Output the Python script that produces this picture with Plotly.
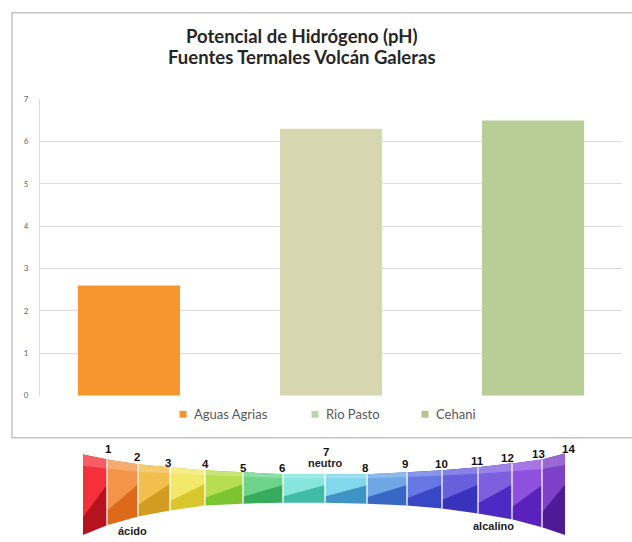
import plotly.graph_objects as go

# Chart data
fuentes = ["Aguas Agrias", "Rio Pasto", "Cehani"]
ph_valores = [2.6, 6.3, 6.5]
colores_barra = ["#F7962F", "#D6D7AE", "#B9CE96"]
colores_leyenda = ["#F7922E", "#BBD6AB", "#B6C38F"]
y_ticks = [0, 1, 2, 3, 4, 5, 6, 7]
titulo = ["Potencial de Hidrógeno (pH)", "Fuentes Termales Volcán Galeras"]

# pH scale strip
escala_ph = [str(n) for n in range(1, 15)]
etiqueta_neutro = "neutro"
etiqueta_acido = "ácido"
etiqueta_alcalino = "alcalino"

W, H = 632, 542


def fx(x):
    return x / W


def fy(y):
    return 1 - y / H


fig = go.Figure()

for i, (name, val) in enumerate(zip(fuentes, ph_valores)):
    fig.add_trace(go.Bar(
        x=[name], y=[val], width=0.505, name=name,
        marker=dict(color=colores_barra[i], line=dict(width=0)),
        showlegend=False, hoverinfo="x+y",
    ))

shapes = []
annotations = []

# outer chart frame
shapes.append(dict(type="rect", xref="paper", yref="paper",
                   x0=fx(12), x1=fx(640), y0=fy(441), y1=fy(8),
                   line=dict(color="#C4C4C4", width=1.5), fillcolor="rgba(0,0,0,0)",
                   layer="below"))

# legend row: small swatch + label for each source
leyenda_x = [183, 315, 425]
for name, col, x in zip(fuentes, colores_leyenda, leyenda_x):
    shapes.append(dict(type="rect", xref="paper", yref="paper",
                       x0=fx(x - 3.5), x1=fx(x + 3.5), y0=fy(420.5), y1=fy(413.5),
                       fillcolor=col, line=dict(width=0)))
    annotations.append(dict(text=name, xref="paper", yref="paper",
                            x=fx(x + 9), y=fy(417), xanchor="left", yanchor="middle",
                            showarrow=False,
                            font=dict(family="Lato", size=13, color="#595959")))

# pH strip geometry: block boundaries and top/bottom edges along the curve
bx = [83, 107, 138, 170, 205, 243, 283, 325, 367, 407, 442, 478, 512, 542, 565]
top = [458, 463, 468, 471, 474, 476, 478, 478, 478, 476, 474, 471, 467, 463, 457]
bot = [540, 530, 521, 515, 510, 508, 507, 507, 508, 510, 513, 518, 524, 532, 540]
claros = ["#F4303A", "#F49448", "#F2BE4C", "#F2E86A", "#B6DE50", "#6ED48C", "#86E6DE",
          "#80D8EA", "#6EA6E6", "#6676E4", "#6660DE", "#7E60DE", "#8E50DE", "#7E40C6"]
oscuros = ["#B5141E", "#DC6A1A", "#D29C20", "#D8C82E", "#7CC430", "#38AC5E", "#40BCA6",
           "#3E94C4", "#3868C4", "#3848C4", "#3832BC", "#4C2AC4", "#5A22BC", "#4E1A96"]


def ruta(pts):
    return "M " + " L ".join(f"{fx(x):.5f},{fy(y):.5f}" for x, y in pts) + " Z"


for k in range(14):
    xl, xr = bx[k], bx[k + 1]
    tl, tr, bl, br = top[k], top[k + 1], bot[k], bot[k + 1]
    shapes.append(dict(type="path", xref="paper", yref="paper",
                       path=ruta([(xl, tl), (xr, tr), (xr, br), (xl, bl)]),
                       fillcolor=oscuros[k], line=dict(width=0)))
    # lighter upper face, cut by a diagonal rising to the right
    shapes.append(dict(type="path", xref="paper", yref="paper",
                       path=ruta([(xl, tl), (xr, tr),
                                  (xr, tr + 0.38 * (br - tr)),
                                  (xl, tl + 0.78 * (bl - tl))]),
                       fillcolor=claros[k], line=dict(width=0)))
    # soft highlight along the top
    shapes.append(dict(type="path", xref="paper", yref="paper",
                       path=ruta([(xl, tl), (xr, tr), (xr, tr + 0.14 * (br - tr)),
                                  (xl, tl + 0.14 * (bl - tl))]),
                       fillcolor="rgba(255,255,255,0.22)", line=dict(width=0)))

for k in range(1, 14):
    shapes.append(dict(type="line", xref="paper", yref="paper",
                       x0=fx(bx[k]), x1=fx(bx[k]), y0=fy(top[k]), y1=fy(bot[k]),
                       line=dict(color="rgba(255,255,255,0.85)", width=1.5)))

# two-line title
for line, y in zip(titulo, [32, 53]):
    annotations.append(dict(text=f"<b>{line}</b>", xref="paper", yref="paper",
                            x=fx(302), y=fy(y), xanchor="center", yanchor="middle",
                            showarrow=False,
                            font=dict(family="Lato", size=18.5, color="#262626")))

num_pos = [(108, 452), (137, 460), (168, 467), (205, 468), (243, 472), (282, 472),
           (326, 455), (365, 472), (405, 468), (442, 468), (477, 465), (508, 462),
           (538, 457), (568, 452)]
for lab, (x, y) in zip(escala_ph, num_pos):
    annotations.append(dict(text=f"<b>{lab}</b>", xref="paper", yref="paper",
                            x=fx(x), y=fy(y), xanchor="center", yanchor="middle",
                            showarrow=False,
                            font=dict(family="Liberation Sans", size=11.5, color="#111111")))

for lab, (x, y) in [(etiqueta_neutro, (325, 467)), (etiqueta_acido, (132, 536)),
                    (etiqueta_alcalino, (493, 531))]:
    annotations.append(dict(text=f"<b>{lab}</b>", xref="paper", yref="paper",
                            x=fx(x), y=fy(y), xanchor="center", yanchor="middle",
                            showarrow=False,
                            font=dict(family="Liberation Sans", size=11, color="#222222")))

fig.update_layout(
    width=W, height=H,
    margin=dict(l=0, r=0, t=0, b=0),
    paper_bgcolor="white", plot_bgcolor="white",
    barmode="overlay",
    showlegend=False,
    xaxis=dict(domain=[fx(40), fx(622)], range=[-0.44, 2.44], showticklabels=False,
               showgrid=False, zeroline=False, showline=False, fixedrange=True),
    yaxis=dict(domain=[fy(398), fy(96)], range=[0, 7], tickvals=y_ticks,
               showgrid=True, gridcolor="#DCDCDC", gridwidth=1.2, zeroline=False,
               showline=True, linecolor="#DCDCDC", linewidth=1.2,
               ticks="", ticklabelstandoff=9,
               tickfont=dict(family="Lato", size=8, color="#666666")),
    shapes=shapes,
    annotations=annotations,
)

fig.write_html("out.html")
